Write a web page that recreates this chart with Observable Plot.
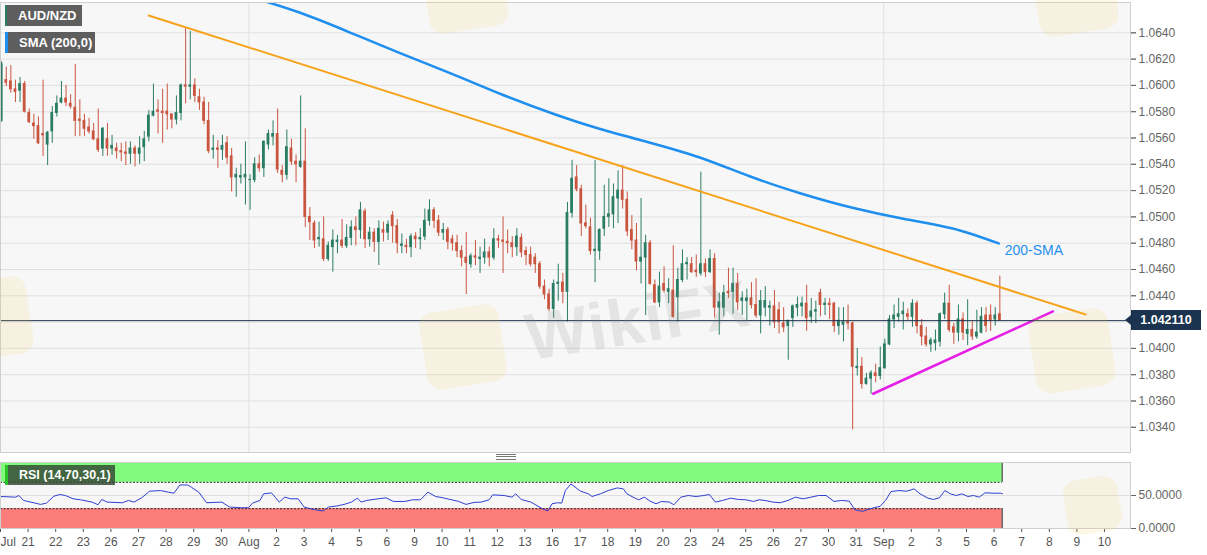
<!DOCTYPE html>
<html><head><meta charset="utf-8">
<script src="https://cdn.jsdelivr.net/npm/d3@7"></script>
<script src="https://cdn.jsdelivr.net/npm/@observablehq/plot@0.6"></script>
<style>
body{margin:0;background:#fff;font-family:"Liberation Sans",Arial,sans-serif;}
#wrap{position:relative;width:1207px;height:555px;overflow:hidden;background:#fff;}
#wrap svg{position:absolute;left:0;}
.box{position:absolute;color:#fff;font-weight:bold;font-size:13px;line-height:21px;height:21px;padding-left:11px;box-sizing:border-box;}
.wm{position:absolute;font-weight:bold;color:rgba(130,130,130,0.16);font-size:66px;letter-spacing:1px;white-space:nowrap;transform:rotate(-9deg);transform-origin:left top;pointer-events:none;}
.logo{position:absolute;width:80px;height:78px;border-radius:14px;background:rgba(245,205,90,0.14);transform:rotate(-9deg);pointer-events:none;}
</style></head><body><div id="wrap"></div>
<script>
// ---------- data ----------
const opens = [1.0573,1.0604,1.0603,1.0597,1.0596,1.0601,1.0579,1.0571,1.0569,1.0563,
1.0555,1.0565,1.0579,1.0587,1.0590,1.0586,1.0583,1.0574,1.0573,1.0568,
1.0565,1.0559,1.0552,1.0559,1.0552,1.0552,1.0550,1.0549,1.0548,1.0552,
1.0548,1.0553,1.0561,1.0577,1.0581,1.0580,1.0580,1.0578,1.0574,1.0579,
1.0600,1.0599,1.0600,1.0591,
1.0587,1.0573,1.0551,1.0552,1.0551,1.0556,1.0546,1.0530,1.0530,1.0530,
1.0528,1.0528,1.0540,1.0537,1.0555,1.0561,1.0563,1.0535,1.0532,1.0552,
1.0542,1.0538,1.0542,1.0500,1.0495,1.0483,1.0483,1.0468,1.0477,1.0481,
1.0482,1.0478,1.0484,1.0492,1.0490,1.0504,1.0483,1.0488,1.0481,1.0490,
1.0488,1.0501,1.0493,1.0478,
1.0478,1.0477,1.0485,1.0483,1.0485,1.0497,1.0505,1.0497,1.0488,1.0490,
1.0483,1.0480,1.0474,1.0469,1.0464,1.0470,1.0468,1.0469,1.0473,1.0469,
1.0483,1.0482,1.0481,1.0480,1.0477,1.0484,1.0474,1.0471,1.0469,1.0464,
1.0447,1.0441,1.0430,1.0449,1.0450,1.0443,1.0503,1.0530,1.0521,1.0495,
1.0492,1.0474,1.0474,
1.0491,1.0500,1.0502,1.0514,1.0520,1.0513,1.0490,1.0482,1.0466,1.0469,
1.0480,1.0448,1.0435,1.0449,1.0443,1.0444,1.0439,1.0452,1.0464,1.0464,
1.0459,1.0457,1.0464,1.0458,1.0468,1.0431,1.0431,1.0443,1.0443,1.0449,
1.0436,1.0436,1.0438,1.0433,1.0425,1.0431,1.0431,1.0432,1.0429,1.0419,
1.0417,1.0423,1.0431,1.0432,
1.0434,1.0424,1.0428,1.0442,1.0433,1.0434,1.0434,1.0417,1.0418,1.0420,
1.0419,1.0385,1.0386,1.0373,1.0377,1.0381,1.0379,1.0385,1.0403,1.0422,
1.0424,1.0426,1.0426,1.0424,1.0434,1.0417,1.0409,1.0403,1.0404,1.0405,
1.0426,1.0434,1.0416,1.0412,1.0422,1.0411,1.0414,1.0409,1.0412,1.0425,
1.0425,1.0422,1.0426];
const highs = [1.0618,1.0614,1.0615,1.0604,1.0606,1.0603,1.0582,1.0578,1.0576,1.0604,
1.0565,1.0584,1.0592,1.0603,1.0600,1.0593,1.0616,1.0589,1.0578,1.0575,
1.0571,1.0582,1.0568,1.0571,1.0562,1.0556,1.0556,1.0557,1.0557,1.0554,
1.0561,1.0565,1.0581,1.0601,1.0589,1.0597,1.0601,1.0578,1.0592,1.0601,
1.0644,1.0641,1.0605,1.0597,
1.0591,1.0587,1.0562,1.0558,1.0562,1.0561,1.0552,1.0537,1.0540,1.0557,
1.0532,1.0545,1.0547,1.0558,1.0566,1.0573,1.0582,1.0539,1.0566,1.0559,
1.0547,1.0592,1.0567,1.0507,1.0497,1.0496,1.0500,1.0481,1.0490,1.0486,
1.0498,1.0494,1.0497,1.0500,1.0511,1.0506,1.0492,1.0491,1.0497,1.0496,
1.0497,1.0504,1.0498,1.0487,
1.0483,1.0487,1.0488,1.0491,1.0506,1.0513,1.0507,1.0501,1.0495,1.0492,
1.0486,1.0486,1.0478,1.0488,1.0472,1.0482,1.0477,1.0483,1.0477,1.0491,
1.0486,1.0500,1.0490,1.0485,1.0491,1.0487,1.0477,1.0477,1.0472,1.0466,
1.0452,1.0445,1.0452,1.0464,1.0457,1.0511,1.0543,1.0539,1.0524,1.0509,
1.0499,1.0543,1.0491,
1.0524,1.0529,1.0525,1.0535,1.0539,1.0519,1.0501,1.0495,1.0514,1.0486,
1.0482,1.0452,1.0458,1.0462,1.0453,1.0478,1.0461,1.0475,1.0469,1.0469,
1.0471,1.0534,1.0468,1.0475,1.0472,1.0442,1.0448,1.0461,1.0461,1.0457,
1.0443,1.0445,1.0450,1.0453,1.0444,1.0447,1.0436,1.0444,1.0435,1.0431,
1.0421,1.0433,1.0439,1.0439,
1.0448,1.0438,1.0436,1.0445,1.0438,1.0438,1.0435,1.0431,1.0431,1.0433,
1.0420,1.0400,1.0393,1.0381,1.0383,1.0388,1.0401,1.0407,1.0425,1.0433,
1.0438,1.0435,1.0430,1.0437,1.0436,1.0422,1.0416,1.0408,1.0414,1.0427,
1.0442,1.0448,1.0419,1.0433,1.0427,1.0437,1.0421,1.0429,1.0431,1.0431,
1.0433,1.0431,1.0455];
const lows = [1.0572,1.0599,1.0594,1.0587,1.0587,1.0579,1.0571,1.0559,1.0555,1.0546,
1.0539,1.0556,1.0576,1.0586,1.0584,1.0582,1.0561,1.0561,1.0561,1.0563,
1.0558,1.0549,1.0546,1.0546,1.0547,1.0544,1.0542,1.0539,1.0540,1.0538,
1.0540,1.0542,1.0557,1.0576,1.0563,1.0556,1.0566,1.0567,1.0570,1.0573,
1.0586,1.0589,1.0587,1.0581,
1.0570,1.0548,1.0544,1.0537,1.0543,1.0540,1.0519,1.0515,1.0525,1.0509,
1.0505,1.0526,1.0534,1.0530,1.0551,1.0554,1.0533,1.0526,1.0528,1.0539,
1.0526,1.0537,1.0492,1.0482,1.0476,1.0477,1.0466,1.0466,1.0458,1.0472,
1.0476,1.0476,1.0478,1.0478,1.0483,1.0476,1.0477,1.0473,1.0463,1.0481,
1.0482,1.0480,1.0472,1.0472,
1.0472,1.0469,1.0476,1.0475,1.0482,1.0493,1.0491,1.0485,1.0482,1.0475,
1.0474,1.0469,1.0462,1.0441,1.0461,1.0463,1.0457,1.0464,1.0462,1.0467,
1.0476,1.0457,1.0472,1.0469,1.0470,1.0469,1.0463,1.0462,1.0457,1.0445,
1.0437,1.0428,1.0423,1.0436,1.0434,1.0420,1.0499,1.0519,1.0485,1.0491,
1.0471,1.0450,1.0467,
1.0485,1.0492,1.0491,1.0495,1.0506,1.0485,1.0475,1.0459,1.0449,1.0425,
1.0448,1.0434,1.0431,1.0442,1.0434,1.0423,1.0420,1.0450,1.0452,1.0457,
1.0454,1.0455,1.0454,1.0457,1.0423,1.0410,1.0424,1.0438,1.0426,1.0429,
1.0425,1.0421,1.0430,1.0423,1.0411,1.0424,1.0417,1.0415,1.0411,1.0412,
1.0391,1.0416,1.0424,1.0424,
1.0413,1.0419,1.0419,1.0424,1.0425,1.0422,1.0412,1.0410,1.0405,1.0414,
1.0338,1.0379,1.0369,1.0372,1.0365,1.0374,1.0376,1.0384,1.0402,1.0415,
1.0420,1.0414,1.0421,1.0416,1.0411,1.0402,1.0401,1.0397,1.0398,1.0401,
1.0422,1.0412,1.0403,1.0405,1.0406,1.0402,1.0406,1.0407,1.0411,1.0412,
1.0413,1.0417,1.0421];
const closes = [1.0616,1.0602,1.0597,1.0595,1.0601,1.0580,1.0572,1.0569,1.0556,1.0562,
1.0564,1.0579,1.0586,1.0590,1.0587,1.0584,1.0573,1.0573,1.0567,1.0565,
1.0559,1.0551,1.0567,1.0552,1.0554,1.0550,1.0549,1.0548,1.0552,1.0548,
1.0552,1.0559,1.0577,1.0580,1.0580,1.0579,1.0578,1.0574,1.0579,1.0600,
1.0599,1.0600,1.0592,1.0587,
1.0573,1.0550,1.0552,1.0551,1.0554,1.0545,1.0530,1.0532,1.0531,1.0532,
1.0528,1.0540,1.0537,1.0557,1.0563,1.0563,1.0536,1.0532,1.0553,1.0542,
1.0540,1.0542,1.0500,1.0496,1.0482,1.0484,1.0468,1.0478,1.0482,1.0482,
1.0478,1.0484,1.0492,1.0490,1.0505,1.0483,1.0488,1.0481,1.0491,1.0488,
1.0494,1.0493,1.0480,1.0479,
1.0477,1.0485,1.0483,1.0484,1.0497,1.0505,1.0497,1.0488,1.0490,1.0481,
1.0480,1.0474,1.0469,1.0465,1.0470,1.0469,1.0469,1.0473,1.0469,1.0483,
1.0482,1.0481,1.0480,1.0477,1.0485,1.0473,1.0471,1.0464,1.0464,1.0447,
1.0441,1.0430,1.0449,1.0450,1.0443,1.0503,1.0529,1.0521,1.0495,1.0493,
1.0474,1.0475,1.0490,
1.0500,1.0502,1.0515,1.0520,1.0513,1.0489,1.0482,1.0466,1.0469,1.0480,
1.0449,1.0435,1.0447,1.0444,1.0445,1.0424,1.0452,1.0464,1.0465,1.0458,
1.0458,1.0464,1.0458,1.0468,1.0431,1.0435,1.0442,1.0442,1.0449,1.0435,
1.0438,1.0438,1.0433,1.0425,1.0436,1.0436,1.0432,1.0420,1.0420,1.0416,
1.0421,1.0432,1.0433,1.0434,
1.0423,1.0428,1.0429,1.0433,1.0434,1.0433,1.0417,1.0421,1.0420,1.0419,
1.0386,1.0386,1.0373,1.0377,1.0381,1.0379,1.0385,1.0403,1.0422,1.0425,
1.0426,1.0428,1.0424,1.0434,1.0417,1.0409,1.0403,1.0406,1.0406,1.0426,
1.0434,1.0414,1.0412,1.0422,1.0412,1.0414,1.0409,1.0412,1.0424,1.0417,
1.0421,1.0425,1.0421];

// 200-period SMA: [bar index, value]
const smaPoints = [[54,1.06676],[65,1.06554],[76,1.06402],[87,1.06243],[98,1.06090],[109,1.05931],
[120,1.05786],[130,1.05672],[141,1.05566],[152,1.05452],[163,1.05307],[174,1.05178],
[185,1.05071],[196,1.04988],[207,1.04912],[217,1.04798]];
// trend lines: [bar index, price]
const resistanceLine = [[32.2,1.06532],[235.9,1.04258]];
const supportLine = [[189.7,1.03655],[228.8,1.04281]];
const lastPrice = 1.04211;

// RSI (14): [bar index, value]
const rsiPoints = [[0,48.5],[3.3,47.5],[4,50],[5,42.5],[7.5,38.5],[8.7,36.5],[10,38.5],[11.6,49],[12.9,51.5],[14.1,50],[15.8,45],[17.4,43.5],[19.9,40],[21.2,36],[22,44],[23.2,40],[26.5,39],[27.8,42.5],[29,40],[30.7,46.5],[32.4,56.5],[34.8,57.5],[36.5,55],[37.7,53.5],[39,66],[40.7,66],[41.5,62.5],[43.1,55],[44.8,39],[48.1,40],[49.8,32.5],[52.3,31.5],[53.9,31.5],[54.8,38.5],[56.4,42.5],[57.2,52.5],[58.9,54],[59.7,47.5],[60.6,40],[61.8,47.5],[63.1,45],[64.7,45],[66,32.5],[68,29],[70.1,26.5],[71.3,32.5],[73,34],[74.7,36.5],[76.3,40],[77.6,46],[78.4,40],[79.6,42.5],[82.1,45],[83.8,46.5],[85.4,41],[87.9,41],[89.6,43.5],[91.3,43.5],[92.9,55],[94.6,48.5],[96.2,46.5],[99.6,41],[101.2,36.5],[102.9,39.5],[104.5,40],[106.2,43.5],[107,51],[109.5,50],[111.2,47.5],[112,52.5],[113.2,44],[115.3,40],[117.8,30],[119,26.5],[119.9,37.5],[121.1,39],[122,38.5],[122.8,57.5],[124,67.5],[126.1,56.5],[127.8,52.5],[128.6,48.5],
[130.4,52.5],[132.1,57.5],[134.1,61.5],[135.4,60],[136.2,52.5],[137.5,47.5],[138.7,43.5],[140,47.5],[141.2,41.5],[142.5,37.5],[143.7,41],[145.4,40],[146.4,36],[147.9,47.5],[149.5,50],[151.2,48.5],[152.9,50],[154.1,51.5],[155.4,40],[157,42.5],[158.7,46],[160.4,44],[162,43.5],[163.7,41],[164.9,43.5],[166.2,42.5],[167.9,40],[169.5,39],[171.2,42.5],[172.8,47.5],[174.5,45],[176.2,47.5],[177.8,50],[179.5,50],[181.2,41],[182.8,42.5],[184.5,41.5],[185.7,28.5],[187.4,26],[188.7,29],[189.9,31.5],[191.2,33.5],[192.4,42.5],[193.6,56],[195.3,57.5],[197,56.5],[198.6,60],[199.9,52.5],[201.6,46],[202.8,44],[204.1,46.5],[205.3,57.5],[206.5,52.5],[207.8,50],[209,52.5],[210.3,48.5],[211.5,50],[212.8,47.5],[214,54],[216.1,53.5],[217.4,53.5],[217.8,52.5]];

const dayLabels = ["Jul","21","22","23","26","27","28","29","30","Aug","2","3","4","5","6","9","10","11","12","13","16","17","18","19","20","23","24","25","26","27","30","31","Sep","2","3","5","6","7","8","9","10"];
const monthLabels = ["Aug","Sep"];
const priceTicks = [1.0340,1.0360,1.0380,1.0400,1.0420,1.0440,1.0460,1.0480,1.0500,1.0520,1.0540,1.0560,1.0580,1.0600,1.0620,1.0640];
const rsiTicks = [0,50];
const rsiLevels = [30,70];

// ---------- build ----------
const GREEN = "#2a7d64", RED = "#c9553f";
const BARS_PER_DAY = 6;
const xDomain = [0, 245.65];
const dayTicks = dayLabels.map((_, k) => k * BARS_PER_DAY);
const monthTicks = monthLabels.map(m => dayLabels.indexOf(m) * BARS_PER_DAY);
const candles = opens.map((o, i) => ({b: i + 0.25, o, h: highs[i], l: lows[i], c: closes[i], col: closes[i] >= o ? GREEN : RED}));
const endBar = candles[candles.length - 1].b + 0.5;
const sma = smaPoints.map(([b, v]) => ({b, v}));
const rsi = rsiPoints.map(([b, v]) => ({b, v}));
const labelTicks = priceTicks.filter(t => Math.abs(t - lastPrice) > 0.0008); // the one under the price tag is hidden
const FONT = "Liberation Sans, Arial, sans-serif";

const wrap = document.getElementById("wrap");

const main = Plot.plot({
  width: 1207, height: 456, marginLeft: 0, marginRight: 77, marginTop: 2, marginBottom: 4,
  x: {domain: xDomain, axis: null},
  y: {domain: [1.032083, 1.066304], axis: null},
  color: {type: "identity"},
  style: {background: "transparent", fontFamily: FONT, overflow: "visible"},
  marks: [
    Plot.frame({fill: "#f7f7f7", stroke: "none"}),
    Plot.gridY(priceTicks, {stroke: "#e0e0e0", strokeOpacity: 1}),
    Plot.gridX(monthTicks, {stroke: "#e0e0e0", strokeOpacity: 1}),
    Plot.axisY(priceTicks, {anchor: "right", tickSize: 5, text: null, label: null, stroke: "#888"}),
    Plot.axisY(labelTicks, {anchor: "right", tickSize: 5, tickPadding: 3, tickFormat: d3.format(".4f"), fontSize: 12, color: "#666", label: null}),
    Plot.ruleX(candles, {x: "b", y1: "l", y2: "h", stroke: "col", strokeWidth: 1}),
    Plot.rect(candles, {x1: d => d.b - 0.3, x2: d => d.b + 0.3, y1: d => Math.min(d.o, d.c), y2: d => Math.max(d.o, d.c), fill: "col", insetTop: -0.5, insetBottom: -0.5}),
    Plot.line(sma, {x: "b", y: "v", stroke: "#1e8fef", strokeWidth: 2.5, curve: "natural", clip: true}),
    Plot.line(resistanceLine, {x: d => d[0], y: d => d[1], stroke: "#f7a21b", strokeWidth: 2}),
    Plot.line(supportLine, {x: d => d[0], y: d => d[1], stroke: "#e61fe6", strokeWidth: 2.5}),
    Plot.ruleY([lastPrice], {stroke: "#1c3350", strokeWidth: 1}),
    Plot.text(["200-SMA"], {x: smaPoints[smaPoints.length - 1][0] + 1.3, y: smaPoints[smaPoints.length - 1][1] - 0.0005, text: d => d, textAnchor: "start", fill: "#1e8fef", fontSize: 14}),
    Plot.frame({stroke: "#cfcfcf"})
  ]
});
main.style.top = "0px";

const rsiPlot = Plot.plot({
  width: 1207, height: 98, marginLeft: 0, marginRight: 77, marginTop: 5, marginBottom: 27,
  x: {domain: xDomain, axis: null},
  y: {domain: [0, 100], axis: null},
  style: {background: "transparent", fontFamily: FONT, overflow: "visible"},
  marks: [
    Plot.frame({fill: "#f7f7f7", stroke: "none"}),
    Plot.gridY([50], {stroke: "#e0e0e0", strokeOpacity: 1}),
    Plot.gridX(monthTicks, {stroke: "#e0e0e0", strokeOpacity: 1}),
    Plot.rect([0], {x1: 0, x2: endBar, y1: rsiLevels[1], y2: 100, fill: "#80fb7c"}),
    Plot.rect([0], {x1: 0, x2: endBar, y1: 0, y2: rsiLevels[0], fill: "#fd7d7a"}),
    Plot.ruleY(rsiLevels, {x1: 0, x2: endBar, stroke: "#222", strokeDasharray: "2,1.5", strokeWidth: 1}),
    Plot.ruleX([endBar], {y1: rsiLevels[1], y2: 100, stroke: "#222"}),
    Plot.ruleX([endBar], {y1: 0, y2: rsiLevels[0], stroke: "#222"}),
    Plot.line(rsi, {x: "b", y: "v", stroke: "#2f3fd0", strokeWidth: 1}),
    Plot.axisY(rsiTicks, {anchor: "right", tickSize: 5, tickPadding: 3, tickFormat: d3.format(".4f"), fontSize: 12, color: "#666", label: null}),
    Plot.axisX(dayTicks, {anchor: "bottom", tickSize: 4, tickPadding: 5, tickFormat: d => d === 0 ? "" : dayLabels[Math.round(d / BARS_PER_DAY)], fontSize: 12, color: "#555", label: null}),
    Plot.text([dayLabels[0]], {x: 0, frameAnchor: "bottom", lineAnchor: "top", dy: 9, textAnchor: "start", fill: "#555", fontSize: 12, text: d => d}),
    Plot.frame({stroke: "#cfcfcf"})
  ]
});
rsiPlot.style.top = "457px";

wrap.appendChild(main);
wrap.appendChild(rsiPlot);

function el(tag, cls, css, txt) {
  const e = document.createElement(tag);
  if (cls) e.className = cls;
  Object.assign(e.style, css);
  if (txt != null) e.textContent = txt;
  wrap.appendChild(e);
  return e;
}
// faint watermarks laid over the chart, as in the picture
el("div", "logo", {left: "425px", top: "-48px"});
el("div", "logo", {left: "1035px", top: "-45px"});
el("div", "logo", {left: "423px", top: "308px"});
el("div", "logo", {left: "1032px", top: "312px"});
el("div", "logo", {left: "-50px", top: "280px"});
el("div", "logo", {left: "1065px", top: "478px", width: "55px", height: "55px"});
el("div", "wm", {left: "520px", top: "300px"}, "WikiFX");

el("div", "box", {left: "5px", top: "5px", width: "77px", background: "rgba(80,80,80,0.92)", borderLeft: "2px solid " + GREEN}, "AUD/NZD");
el("div", "box", {left: "5px", top: "32px", width: "90px", background: "rgba(80,80,80,0.92)", borderLeft: "3px solid #1e8fef"}, "SMA (200,0)");
el("div", "box", {left: "5px", top: "465px", width: "110px", height: "20px", lineHeight: "20px", fontSize: "12.5px", background: "rgba(55,75,55,0.85)", borderLeft: "3px solid #29c229"}, "RSI (14,70,30,1)");

// price tag on the right axis, positioned through the y scale
const py = main.scale("y").apply(lastPrice);
el("div", null, {position: "absolute", left: "1131px", top: (py - 10) + "px", height: "20px", lineHeight: "20px", width: "70px", background: "#1c3350", color: "#fff", fontWeight: "bold", fontSize: "12.5px", textAlign: "center"}, lastPrice.toFixed(6));
el("div", null, {position: "absolute", left: "1125px", top: (py - 5) + "px", width: 0, height: 0, borderTop: "5px solid transparent", borderBottom: "5px solid transparent", borderRight: "6px solid #1c3350"});
// pane splitter handle
const hx = rsiPlot.scale("x").apply(monthTicks[0] + 56);
el("div", null, {position: "absolute", left: (hx - 10) + "px", top: "454px", width: "20px", height: "4px", borderTop: "1px solid #777", borderBottom: "1px solid #777"});
el("div", null, {position: "absolute", left: (hx - 10) + "px", top: "456px", width: "20px", height: "0px", borderTop: "1px solid #777"});
</script></body></html>
